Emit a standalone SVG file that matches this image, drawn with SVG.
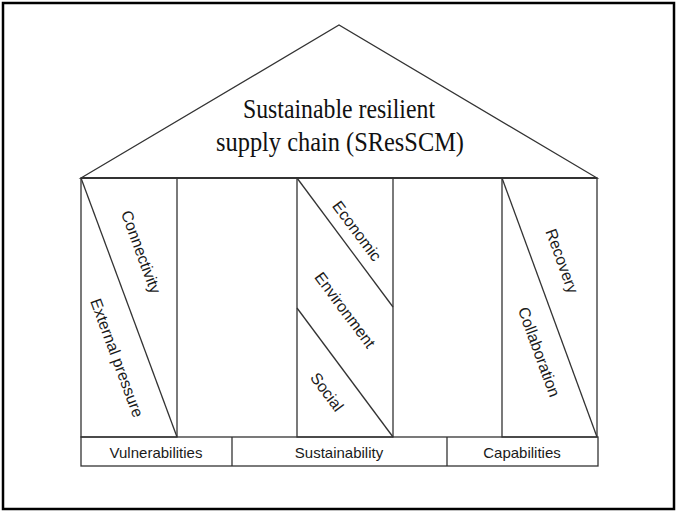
<svg xmlns="http://www.w3.org/2000/svg" width="677" height="511" viewBox="0 0 677 511">
<style>
.ln{fill:none;stroke:#333;stroke-width:1.3}
.t{font-family:"Liberation Sans",Arial,sans-serif;font-size:15px;fill:#1a1a1a;text-anchor:middle;dominant-baseline:central}
.p{font-size:16px}
.title{font-family:"Liberation Serif","Times New Roman",serif;font-size:27px;fill:#111;text-anchor:middle}
</style>
<rect x="0" y="0" width="677" height="511" fill="#fff"/>
<rect x="3" y="3" width="671" height="506" fill="none" stroke="#000" stroke-width="2.5"/>
<g id="roof">
<polygon class="ln" points="81,178 339,25 597,178"/>
<line x1="81" y1="178" x2="597" y2="178" stroke="#333" stroke-width="2"/>
<text class="title" x="339" y="118" textLength="192" lengthAdjust="spacingAndGlyphs">Sustainable resilient</text>
<text class="title" x="340" y="151" textLength="248" lengthAdjust="spacingAndGlyphs">supply chain (SResSCM)</text>
</g>
<g id="pillar-vulnerabilities">
<rect class="ln" x="81" y="178" width="96" height="259"/>
<line class="ln" x1="81" y1="178" x2="177" y2="437"/>
<text class="t p" transform="translate(141,252) rotate(69.7)">Connectivity</text>
<text class="t p" transform="translate(117,358) rotate(69.7)">External pressure</text>
</g>
<g id="pillar-sustainability">
<rect class="ln" x="297" y="178" width="96" height="259"/>
<line class="ln" x1="297" y1="178" x2="393" y2="307"/>
<line class="ln" x1="297" y1="308" x2="393" y2="437"/>
<text class="t p" transform="translate(357,231) rotate(53.3)">Economic</text>
<text class="t p" transform="translate(345,310) rotate(53.3)">Environment</text>
<text class="t p" transform="translate(327,392) rotate(53.3)">Social</text>
</g>
<g id="pillar-capabilities">
<rect class="ln" x="502" y="178" width="95" height="259"/>
<line class="ln" x1="502" y1="178" x2="597" y2="437"/>
<text class="t p" transform="translate(562,261) rotate(69.9)">Recovery</text>
<text class="t p" transform="translate(539,352) rotate(69.9)">Collaboration</text>
</g>
<g id="base">
<rect class="ln" x="81" y="437" width="517" height="29"/>
<line class="ln" x1="232" y1="437" x2="232" y2="466"/>
<line class="ln" x1="447" y1="437" x2="447" y2="466"/>
<text class="t" x="156" y="452">Vulnerabilities</text>
<text class="t" x="339" y="452">Sustainability</text>
<text class="t" x="522" y="452">Capabilities</text>
</g>
</svg>
